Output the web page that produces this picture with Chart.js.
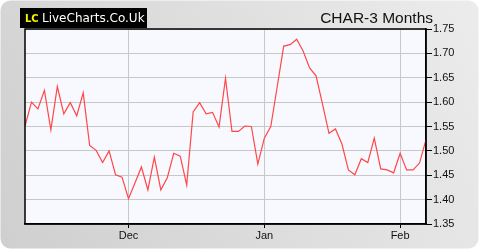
<!DOCTYPE html>
<html>
<head>
<meta charset="utf-8">
<script src="https://cdn.jsdelivr.net/npm/chart.js@4.4.0/dist/chart.umd.min.js"></script>
<style>
  html, body { margin: 0; padding: 0; background: #fff; }
  #wrap { width: 480px; height: 250px; }
</style>
</head>
<body>
<div id="wrap"><canvas id="chart" width="480" height="250"></canvas></div>
<script>
// CHAR 3 month price chart, daily closes
const prices = [
  1.551, 1.600, 1.586, 1.624, 1.543, 1.632, 1.576, 1.599, 1.572, 1.619,
  1.511, 1.501, 1.476, 1.500, 1.451, 1.446, 1.402, 1.434, 1.467, 1.420,
  1.487, 1.420, 1.445, 1.495, 1.489, 1.430, 1.580, 1.599, 1.576, 1.579,
  1.549, 1.649, 1.540, 1.540, 1.551, 1.550, 1.473, 1.526, 1.550, 1.632,
  1.715, 1.718, 1.729, 1.705, 1.670, 1.654, 1.596, 1.536, 1.545, 1.514,
  1.461, 1.451, 1.484, 1.476, 1.526, 1.463, 1.461, 1.455, 1.495, 1.461,
  1.461, 1.475, 1.523
];
const monthLabels = ['Dec', 'Jan', 'Feb'];
const monthIndex = [16, 37, 58];   // first trading day of each month
const yTicks = [1.35, 1.40, 1.45, 1.50, 1.55, 1.60, 1.65, 1.70, 1.75];

const points = prices.map((v, i) => ({ x: i, y: v }));

// background frame, plot fill, border, logo and title
const decor = {
  id: 'decor',
  beforeDraw(chart) {
    const ctx = chart.ctx;
    const a = chart.chartArea;
    ctx.save();
    ctx.fillStyle = '#fff';
    ctx.fillRect(0, 0, chart.width, chart.height);
    const g = ctx.createLinearGradient(0, chart.height, chart.width, 0);
    g.addColorStop(0, '#cfcfcf');
    g.addColorStop(1, '#ececec');
    ctx.fillStyle = g;
    ctx.beginPath();
    ctx.roundRect(0.5, 0.5, chart.width - 2, chart.height - 2, 10);
    ctx.fill();
    ctx.fillStyle = '#f8f9ff';
    ctx.fillRect(a.left, a.top, a.right - a.left, a.bottom - a.top);
    ctx.restore();
  },
  afterDraw(chart) {
    const ctx = chart.ctx;
    const a = chart.chartArea;
    ctx.save();
    ctx.strokeStyle = '#000';
    ctx.lineWidth = 1.5;
    ctx.strokeRect(a.left, a.top, a.right - a.left, a.bottom - a.top);

    // logo
    ctx.fillStyle = '#000';
    ctx.fillRect(20, 8, 127, 20);
    ctx.textBaseline = 'alphabetic';
    ctx.font = 'bold 10px "DejaVu Sans"';
    ctx.fillStyle = '#f5f000';
    ctx.fillText('LC', 25, 22);
    ctx.font = '12px "DejaVu Sans"';
    ctx.fillStyle = '#fff';
    ctx.fillText('LiveCharts.Co.Uk', 42, 22);

    // title
    ctx.font = '15.5px "Liberation Sans", Arial, sans-serif';
    ctx.fillStyle = '#111';
    ctx.textAlign = 'right';
    ctx.fillText('CHAR-3 Months', 433, 23);
    ctx.restore();
  }
};

new Chart(document.getElementById('chart'), {
  type: 'line',
  data: {
    datasets: [{
      data: points,
      borderColor: '#ff4747',
      borderWidth: 1.2,
      pointRadius: 0,
      tension: 0,
      fill: false
    }]
  },
  options: {
    responsive: false,
    animation: false,
    events: [],
    layout: { padding: { top: 29, left: 25, right: 0, bottom: 0 } },
    plugins: { legend: { display: false }, tooltip: { enabled: false } },
    scales: {
      x: {
        type: 'linear',
        min: 0,
        max: prices.length - 1,
        afterBuildTicks(axis) { axis.ticks = monthIndex.map(v => ({ value: v })); },
        afterFit(axis) { axis.height = 26; },
        ticks: {
          autoSkip: false,
          maxRotation: 0,
          padding: 1,
          color: '#111',
          font: { family: '"Liberation Sans", Arial, sans-serif', size: 11 },
          callback: (v) => monthLabels[monthIndex.indexOf(v)]
        },
        grid: { color: '#c8c8c8', lineWidth: 1, tickColor: '#000', tickLength: 4 },
        border: { color: '#000', width: 1.5 }
      },
      y: {
        position: 'right',
        min: 1.35,
        max: 1.75,
        afterBuildTicks(axis) { axis.ticks = yTicks.map(v => ({ value: v })); },
        afterFit(axis) { axis.width = 54; },
        ticks: {
          padding: 1,
          color: '#111',
          font: { family: '"Liberation Sans", Arial, sans-serif', size: 11 },
          callback: (v) => v.toFixed(2)
        },
        grid: { color: '#c8c8c8', lineWidth: 1, tickColor: '#000', tickLength: 6 },
        border: { color: '#000', width: 1.5 }
      }
    }
  },
  plugins: [decor]
});
</script>
</body>
</html>
